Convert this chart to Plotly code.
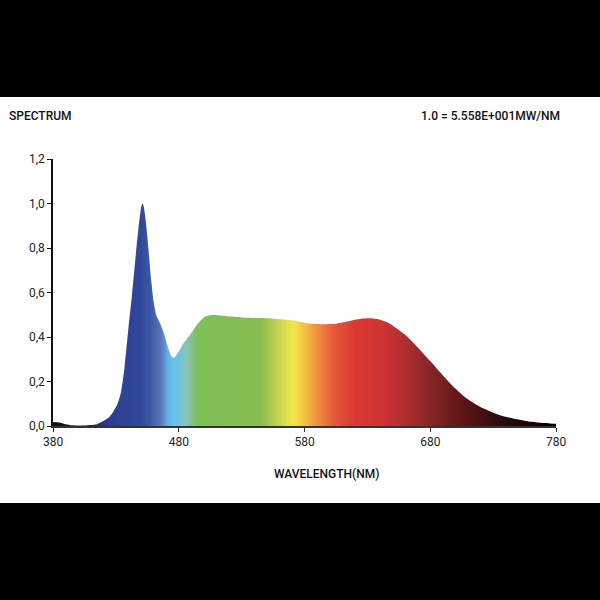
"""
Espectro de emissão (0..1 relativo) com preenchimento em cores do arco-íris.
"""

import numpy as np
import plotly.graph_objects as go

# comprimentos de onda (nm) e intensidade relativa
comprimento_onda = [
    380, 385, 390, 395, 400, 405, 410, 415, 420, 425, 428, 431, 434, 437,
    440, 443, 446, 448, 450, 451, 452, 454, 456, 458, 460, 462, 464, 466,
    468, 470, 472, 474, 476, 478, 480, 483, 486, 489, 492, 495, 498, 501,
    505, 510, 515, 520, 525, 530, 535, 540, 545, 550, 555, 560, 565, 570,
    575, 580, 585, 590, 595, 600, 605, 610, 615, 620, 625, 630, 635, 640,
    645, 650, 655, 660, 665, 670, 675, 680, 685, 690, 695, 700, 705, 710,
    715, 720, 725, 730, 735, 740, 745, 750, 755, 760, 765, 770, 775, 780,
]
intensidade = [
    0.018, 0.016, 0.008, 0.003, 0.002, 0.002, 0.004, 0.008, 0.022, 0.042,
    0.065, 0.095, 0.150, 0.270, 0.440, 0.600, 0.780, 0.890, 0.980, 1.000,
    0.990, 0.910, 0.790, 0.660, 0.560, 0.500, 0.475, 0.450, 0.420, 0.380,
    0.345, 0.315, 0.305, 0.318, 0.335, 0.365, 0.390, 0.410, 0.435, 0.458,
    0.478, 0.492, 0.498, 0.498, 0.495, 0.492, 0.490, 0.488, 0.486, 0.485,
    0.485, 0.484, 0.482, 0.480, 0.478, 0.475, 0.470, 0.464, 0.460, 0.458,
    0.457, 0.458, 0.460, 0.465, 0.471, 0.478, 0.482, 0.484, 0.483, 0.478,
    0.468, 0.452, 0.432, 0.410, 0.383, 0.353, 0.323, 0.292, 0.260, 0.228,
    0.197, 0.168, 0.142, 0.120, 0.101, 0.085, 0.072, 0.060, 0.050, 0.042,
    0.035, 0.029, 0.024, 0.019, 0.016, 0.013, 0.011, 0.010,
]

ticks_x = [380, 480, 580, 680, 780]
ticks_y = [0.0, 0.2, 0.4, 0.6, 0.8, 1.0, 1.2]

# paleta do preenchimento (nm -> cor)
CORES_ESPECTRO = [
    (380, "#101010"), (405, "#141c48"), (425, "#2d3f94"), (450, "#30479a"),
    (458, "#3d5aa6"), (466, "#5a78b8"), (472, "#60b8e6"), (477, "#64c4ec"),
    (486, "#88c4b8"), (495, "#7cc056"), (545, "#88bc50"), (558, "#c2d24e"),
    (571, "#f2e84c"), (580, "#f8c040"), (590, "#f09040"), (603, "#e65a38"),
    (620, "#dc3832"), (645, "#cc3434"), (680, "#882626"), (706, "#5e1616"),
    (735, "#2e0c0c"), (760, "#140404"), (780, "#000000"),
]

FONTE = "Roboto, Liberation Sans, sans-serif"

x0, x1 = comprimento_onda[0], comprimento_onda[-1]
y_max = ticks_y[-1]
escala = [[(nm - x0) / (x1 - x0), cor] for nm, cor in CORES_ESPECTRO]

fig = go.Figure()

# gradiente de cor por comprimento de onda
bordas = np.arange(x0, x1 + 1)
centros = (bordas[:-1] + bordas[1:]) / 2
fig.add_trace(go.Heatmap(
    x=bordas, y=[0, y_max], z=[centros],
    colorscale=escala, zmin=x0, zmax=x1,
    showscale=False, hoverinfo="skip",
))

# máscara branca acima da curva
fig.add_trace(go.Scatter(
    x=comprimento_onda, y=[y_max] * len(comprimento_onda),
    mode="lines", line=dict(width=0), hoverinfo="skip", showlegend=False,
))
fig.add_trace(go.Scatter(
    x=comprimento_onda, y=intensidade,
    mode="lines", line=dict(width=0, shape="spline", smoothing=0.6),
    fill="tonexty", fillcolor="white", showlegend=False,
    hovertemplate="%{x} nm: %{y:.3f}<extra></extra>",
))

# faixa branca sobre o fundo preto
fig.add_shape(type="rect", xref="paper", yref="paper",
              x0=-0.2, x1=1.3, y0=-0.288, y1=1.232,
              fillcolor="white", line=dict(width=0), layer="below")

fonte_titulo = dict(size=12, color="#111", family=FONTE, weight=500)
fig.add_annotation(text="SPECTRUM", xref="paper", yref="paper",
                   x=-0.091, y=1.161, xanchor="left", yanchor="middle",
                   showarrow=False, font=fonte_titulo)
fig.add_annotation(text="1.0 = 5.558E+001MW/NM", xref="paper", yref="paper",
                   x=1.012, y=1.161, xanchor="right", yanchor="middle",
                   showarrow=False, font=fonte_titulo)
fig.add_annotation(text="WAVELENGTH(NM)", xref="paper", yref="paper",
                   x=0.543, y=-0.18, xanchor="center", yanchor="middle",
                   showarrow=False, font=fonte_titulo)

fig.update_layout(
    width=600, height=600,
    paper_bgcolor="black", plot_bgcolor="white",
    margin=dict(l=53, r=44, t=159, b=174),
    separators=",.",
    font=dict(family=FONTE, color="#222", size=12),
    showlegend=False,
)
fig.update_xaxes(
    range=[x0, x1], tickvals=ticks_x, showgrid=False, zeroline=False,
    showline=True, linecolor="#333", linewidth=1.5,
    ticks="outside", ticklen=4, tickcolor="#333",
)
fig.update_yaxes(
    range=[0, y_max], tickvals=ticks_y, tickformat=".1f", showgrid=False,
    zeroline=False, showline=True, linecolor="#111", linewidth=1.5,
    ticks="outside", ticklen=4, tickcolor="#111",
)

fig.write_html(
    "out.html",
    config={"displayModeBar": False},
    post_script="document.body.style.margin='0';"
                "document.body.style.background='black';",
)
